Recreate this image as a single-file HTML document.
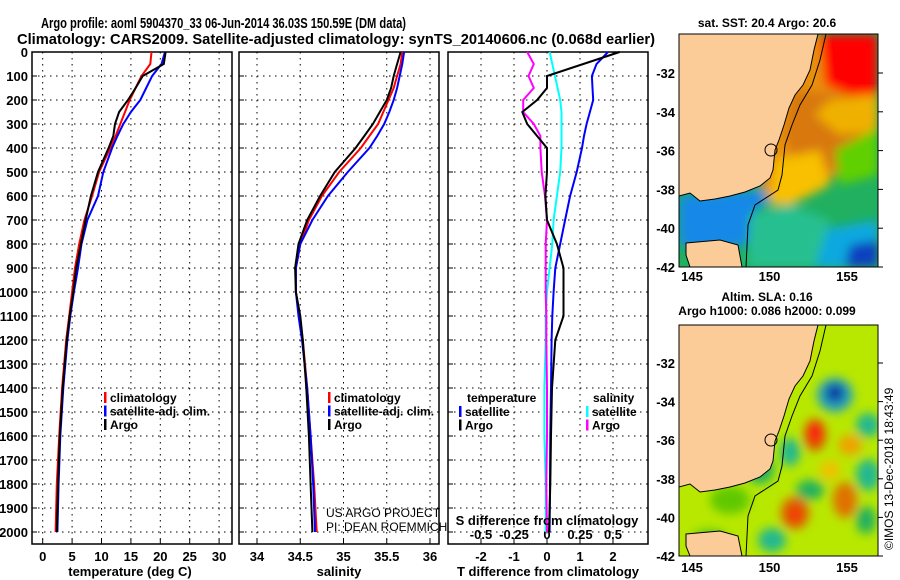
<!DOCTYPE html>
<html><head><meta charset="utf-8"><style>
html,body{margin:0;padding:0;background:#fff}
svg{display:block}
text{font-family:"Liberation Sans",sans-serif;font-weight:bold;font-size:13px;fill:#000}
</style></head><body>
<svg id="chart" width="900" height="580" viewBox="0 0 900 580" xmlns="http://www.w3.org/2000/svg">
<defs>
<filter id="blur" x="-10%" y="-10%" width="120%" height="120%"><feGaussianBlur stdDeviation="5"/></filter>
<clipPath id="clipTop"><rect x="679" y="34" width="199" height="233"/></clipPath>
<clipPath id="clipBot"><rect x="679" y="325" width="199" height="231"/></clipPath>
</defs>
<text x="41" y="28" textLength="365" lengthAdjust="spacingAndGlyphs" style="font-size:15px">Argo profile: aoml 5904370_33 06-Jun-2014 36.03S 150.59E (DM data)</text>
<text x="17" y="44" textLength="638" lengthAdjust="spacingAndGlyphs" style="font-size:15px">Climatology: CARS2009. Satellite-adjusted climatology: synTS_20140606.nc (0.068d earlier)</text>

<g id="maps">
 <g clip-path="url(#clipTop)">
  <rect x="679" y="34" width="199" height="233" fill="#20b060"/>
  <g filter="url(#blur)">
   <polygon points="770,34 878,34 878,150 850,160 820,190 790,205 770,200 760,185" fill="#e89010"/>
   <polygon points="790,90 860,95 855,170 800,170 785,140" fill="#d87808"/>
   <polygon points="820,34 878,34 878,95 850,95 825,85" fill="#ff0000"/>
   <polygon points="830,100 878,95 878,130 840,135 815,115" fill="#f0b000"/>
   <polygon points="775,160 820,150 830,185 790,205 770,205" fill="#f8c000"/>
   <polygon points="835,150 878,128 878,175 840,185" fill="#60d000"/>
   <polygon points="690,195 760,190 770,200 750,215 748,245 700,250 679,245 679,195" fill="#1888e8"/>
   <polygon points="820,230 878,220 878,267 810,267" fill="#10a8e0"/>
   <polygon points="850,245 878,240 878,267 845,267" fill="#1040c0"/>
   <polygon points="750,215 790,205 830,220 815,267 748,267" fill="#28c090"/>
  </g>
  <polygon points="679,34 818,34 814,50 810,70 803,85 795,95 789,108 784,125 779,140 775,150 773,170 770,178 760,186 745,192 730,196 715,199 700,201 690,193 679,196" fill="#fccc98" stroke="#000" stroke-width="1"/>
  <polygon points="686,243 720,240 738,245 742,267 690,267 686,255" fill="#fccc98" stroke="#000" stroke-width="1"/>
  <polyline points="826,34 820,60 812,85 800,105 792,125 785,145 782,175 778,190 755,205 748,225 746,267" fill="none" stroke="#000" stroke-width="1"/>
  <circle cx="771" cy="150" r="6" fill="none" stroke="#000"/>
 </g>
 <rect x="679" y="34" width="199" height="233" fill="none" stroke="#000"/>
 <text x="767" y="27" text-anchor="middle" style="font-size:12px">sat. SST: 20.4 Argo: 20.6</text>

 <g clip-path="url(#clipBot)">
  <rect x="679" y="325" width="199" height="231" fill="#b8e800"/>
  <g filter="url(#blur)">
   <ellipse cx="835" cy="395" rx="18" ry="17" fill="#20a0c0"/>
   <ellipse cx="835" cy="393" rx="9" ry="9" fill="#1030a0"/>
   <ellipse cx="815" cy="435" rx="11" ry="16" fill="#e05000"/>
   <ellipse cx="815" cy="432" rx="6" ry="10" fill="#ff1010"/>
   <ellipse cx="795" cy="513" rx="14" ry="16" fill="#e05a00"/>
   <ellipse cx="795" cy="515" rx="5" ry="6" fill="#ff1010"/>
   <ellipse cx="845" cy="500" rx="12" ry="18" fill="#e07000"/>
   <ellipse cx="790" cy="452" rx="10" ry="14" fill="#20b890"/>
   <ellipse cx="810" cy="490" rx="14" ry="10" fill="#20b060"/>
   <ellipse cx="772" cy="540" rx="14" ry="12" fill="#20b890"/>
   <ellipse cx="868" cy="475" rx="12" ry="16" fill="#20b890"/>
   <ellipse cx="866" cy="520" rx="10" ry="14" fill="#20b060"/>
   <ellipse cx="868" cy="425" rx="12" ry="12" fill="#20b890"/>
   <ellipse cx="850" cy="445" rx="12" ry="10" fill="#f0a000"/>
   <ellipse cx="830" cy="470" rx="10" ry="10" fill="#f0c000"/>
   <ellipse cx="760" cy="470" rx="14" ry="14" fill="#20b060"/>
   <ellipse cx="730" cy="500" rx="20" ry="14" fill="#60c800"/>
   <ellipse cx="710" cy="540" rx="18" ry="10" fill="#48c020"/>
   <ellipse cx="800" cy="345" rx="12" ry="20" fill="#f0d000"/>
  </g>
  <polygon points="679,325 818,325 814,341 810,361 803,376 795,386 789,399 784,416 779,431 775,441 773,461 770,469 760,477 745,483 730,487 715,490 700,492 690,484 679,487" fill="#fccc98" stroke="#000" stroke-width="1"/>
  <polygon points="686,534 720,531 738,536 742,556 690,556 686,546" fill="#fccc98" stroke="#000" stroke-width="1"/>
  <polyline points="826,325 820,351 812,376 800,396 792,416 785,436 782,466 778,481 755,496 748,516 746,556" fill="none" stroke="#000" stroke-width="1"/>
  <circle cx="771" cy="440" r="6" fill="none" stroke="#000"/>
 </g>
 <rect x="679" y="325" width="199" height="231" fill="none" stroke="#000"/>
 <text x="767" y="301" text-anchor="middle" style="font-size:12px">Altim. SLA: 0.16</text>
 <text x="767" y="315" text-anchor="middle" style="font-size:12px">Argo h1000: 0.086 h2000: 0.099</text>
 <text transform="translate(893,550) rotate(-90)" style="font-weight:normal;font-size:12px">©IMOS 13-Dec-2018 18:43:49</text>
</g>
<g id="dyn"></g>
</svg>
<script>
const depths = [0,50,100,150,200,250,300,350,400,500,600,700,800,900,1000,1100,1200,1400,1600,1800,2000];
const tempArgo = [20.9,20.6,17.0,15.8,14.5,13.0,12.3,12.0,11.2,9.4,8.2,7.3,6.5,5.7,5.2,4.6,4.1,3.4,2.9,2.6,2.4];
const tempClim = [18.5,18.3,16.8,15.8,14.8,14.0,13.2,12.4,11.5,9.6,8.4,7.1,6.2,5.5,5.0,4.5,4.0,3.3,2.8,2.4,2.2];
const tempSat = [20.8,20.2,18.6,17.6,16.6,15.0,13.7,12.7,11.8,10.3,9.4,7.6,6.6,6.0,5.3,4.7,4.2,3.5,3.0,2.7,2.5];
const salArgo = [35.66,35.62,35.58,35.55,35.5,35.42,35.34,35.24,35.14,34.9,34.73,34.58,34.48,34.44,34.45,34.5,34.53,34.57,34.6,34.62,34.64];
const salClim = [35.68,35.66,35.62,35.58,35.52,35.46,35.4,35.3,35.2,34.95,34.75,34.6,34.5,34.45,34.45,34.49,34.53,34.58,34.62,34.66,34.69];
const salSat = [35.7,35.68,35.65,35.62,35.58,35.53,35.47,35.39,35.3,35.05,34.82,34.64,34.5,34.45,34.45,34.48,34.52,34.58,34.62,34.65,34.67];
const dTSat = [1.85,1.5,1.36,1.38,1.4,1.3,1.2,1.12,1.06,0.9,0.7,0.55,0.4,0.25,0.2,0.16,0.14,0.12,0.1,0.09,0.08];
const dTArgo = [2.2,1.1,0.0,0.0,-0.3,-0.75,-0.6,-0.3,0.0,0.0,-0.05,0.0,0.3,0.5,0.5,0.5,0.25,0.15,0.12,0.1,0.06];
const dSSat = [0.02,0.04,0.06,0.08,0.1,0.11,0.11,0.11,0.11,0.1,0.075,0.05,0.04,0.02,0.0,-0.01,-0.01,-0.02,-0.02,-0.01,-0.01];
const dSArgo = [-0.15,-0.1,-0.14,-0.1,-0.18,-0.18,-0.1,-0.05,-0.05,-0.04,-0.015,0.0,-0.01,-0.01,-0.01,-0.005,-0.005,0.0,0.0,-0.005,0.0];
const depthTicks = [0,100,200,300,400,500,600,700,800,900,1000,1100,1200,1300,1400,1500,1600,1700,1800,1900,2000];
const tempTicks = [0,5,10,15,20,25,30];
const salTicks = [34,34.5,35,35.5,36];
const dTTicks = [-2,-1,0,1,2];
const dSTicks = [-0.5,-0.25,0,0.25,0.5];
const dSTickLabels = ['-0.5','-0.25','0','0.25','0.5'];
const latTicks = [-32,-34,-36,-38,-40,-42];
const lonTicks = [145,150,155];

const yD = d => 52 + d*0.24;
const xT = t => 42.7 + t*5.88;
const xS = s => 257 + (s-34)*86.5;
const xdT = v => 547 + v*33;
const xdS = v => 547 + v*132;
const yLatTop = l => 267 - (l+42)*19.4;
const yLatBot = l => 556 - (l+42)*19.3;
const xLon = l => 692 + (l-145)*15.5;

const NS='http://www.w3.org/2000/svg';
const root=document.getElementById('dyn');
function mk(tag, attrs, parent){const e=document.createElementNS(NS,tag);for(const k in attrs)e.setAttribute(k,attrs[k]);(parent||root).appendChild(e);return e;}

const panels=[{x0:32,x1:232,name:'temperature-panel'},{x0:239,x1:439,name:'salinity-panel'},{x0:448,x1:648,name:'difference-panel'}];
panels.forEach(p=>{
  const g=mk('g',{});
  
  
  depthTicks.forEach(d=>{
    if(d>0){const l=mk('line',{x1:p.x0,x2:p.x1,y1:yD(d),y2:yD(d),stroke:'#000','stroke-dasharray':'1.5,4.5'},g);
      
      }
    const t=mk('line',{x1:p.x0,x2:p.x0+5,y1:yD(d),y2:yD(d),stroke:'#000'},g);
    
    
  });
  p.g=g;
});
depthTicks.forEach(d=>{
  const t=mk('text',{x:28,y:yD(d)+5,'text-anchor':'end'});
  t.textContent=d;
  
  
});
function vgrid(p, ticks, fx, labels, ly){
  ticks.forEach((v,i)=>{
    const x=fx(v);
    const l=mk('line',{x1:x,x2:x,y1:52,y2:544,stroke:'#000','stroke-dasharray':'1.5,4.5'},p.g);
    
    
    const tk=mk('line',{x1:x,x2:x,y1:544,y2:539,stroke:'#000'},p.g);
    
    
    const t=mk('text',{x:x,y:ly,'text-anchor':'middle'});
    t.textContent=labels?labels[i]:v;
    
    
  });
}
vgrid(panels[0],tempTicks,xT,null,561);
vgrid(panels[1],salTicks,xS,null,561);
vgrid(panels[2],dTTicks,xdT,null,561);
dSTicks.forEach((v,i)=>{
  const t=mk('text',{x:xdS(v),y:539,'text-anchor':'middle'});
  t.textContent=dSTickLabels[i];
  
  
});
panels.forEach(p=>{
  const r=mk('rect',{x:p.x0,y:52,width:p.x1-p.x0,height:492,fill:'none',stroke:'#000','stroke-width':1.5},p.g);
  
  
});
function series(vals, fx, color, name){
  const pts=[];
  vals.forEach((v,i)=>{pts.push(fx(v).toFixed(1)+','+yD(depths[i]).toFixed(1));});
  const pl=mk('polyline',{points:pts.join(' '),fill:'none',stroke:color,'stroke-width':2,'stroke-linejoin':'miter'});
  
  
}
series(tempClim,xT,'#ff0000','temp-climatology-line');
series(tempSat,xT,'#0000ff','temp-satellite-line');
series(tempArgo,xT,'#000','temp-argo-line');
series(salClim,xS,'#ff0000','sal-climatology-line');
series(salSat,xS,'#0000ff','sal-satellite-line');
series(salArgo,xS,'#000','sal-argo-line');
series(dSSat,xdS,'#00ffff','sdiff-satellite-line');
series(dSArgo,xdS,'#ff00ff','sdiff-argo-line');
series(dTSat,xdT,'#0000ff','tdiff-satellite-line');
series(dTArgo,xdT,'#000','tdiff-argo-line');

function legend(x,y,items,name){
  items.forEach((it,i)=>{
    const yy=y+i*13.5;
    if(it[1]){const m=mk('rect',{x:x,y:yy-10,width:2.5,height:11,fill:it[1]});
      
      }
    const t=mk('text',{x:it[1]?x+6:x,y:yy,style:'font-size:12px'});
    t.textContent=it[0];
    
    
  });
}
legend(104,402,[['climatology','#ff0000'],['satellite-adj. clim.','#0000ff'],['Argo','#000']],'temp-legend');
legend(328,402,[['climatology','#ff0000'],['satellite-adj. clim.','#0000ff'],['Argo','#000']],'sal-legend');
legend(467,402,[['temperature',null]],'tdiff-legend-title');
legend(459,416,[['satellite','#0000ff'],['Argo','#000']],'tdiff-legend');
legend(593,402,[['salinity',null]],'sdiff-legend-title');
legend(586,416,[['satellite','#00ffff'],['Argo','#ff00ff']],'sdiff-legend');

[['temperature (deg C)',130,'x-axis-title-temperature'],['salinity',339,'x-axis-title-salinity'],['T difference from climatology',548,'x-axis-title-tdiff']].forEach(a=>{
  const t=mk('text',{x:a[1],y:576,'text-anchor':'middle'});
  t.textContent=a[0];
  
  
});
const sd=mk('text',{x:547,y:525,'text-anchor':'middle'});
sd.textContent='S difference from climatology';


[['US ARGO PROJECT',517],['PI: DEAN ROEMMICH',531]].forEach(a=>{
  const t=mk('text',{x:326,y:a[1],style:'font-weight:normal;font-size:12px'});
  t.textContent=a[0];
  
  
});
latTicks.forEach(l=>{
  [yLatTop(l),yLatBot(l)].forEach(y=>{
    const t=mk('text',{x:675,y:y+5,'text-anchor':'end'});
    t.textContent=l;
    
    
    const tk=mk('line',{x1:878,x2:883,y1:y,y2:y,stroke:'#000'});
    
    
  });
});
lonTicks.forEach(l=>{
  [281,572].forEach(y=>{
    const t=mk('text',{x:xLon(l),y:y,'text-anchor':'middle'});
    t.textContent=l;
    
    
  });
});
</script>
</body></html>
